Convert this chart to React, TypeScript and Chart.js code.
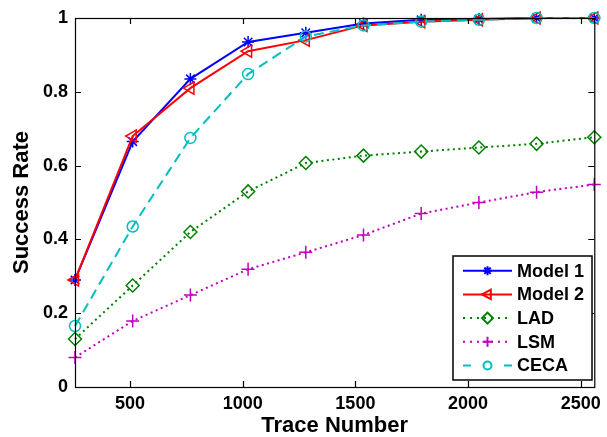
import React, { useEffect, useRef } from "react";
import { Chart, registerables } from "chart.js";

Chart.register(...registerables);

const traceNumbers = [256, 512, 768, 1024, 1280, 1536, 1792, 2048, 2304, 2560];
const model1 = [0.29, 0.665, 0.835, 0.935, 0.96, 0.985, 0.995, 0.997, 1.0, 1.0];
const model2 = [0.29, 0.68, 0.81, 0.91, 0.94, 0.98, 0.99, 0.995, 1.0, 1.0];
const lad = [0.13, 0.275, 0.42, 0.53, 0.607, 0.627, 0.638, 0.649, 0.659, 0.677];
const lsm = [0.08, 0.179, 0.249, 0.319, 0.365, 0.412, 0.47, 0.5, 0.528, 0.549];
const ceca = [0.165, 0.435, 0.675, 0.848, 0.95, 0.98, 0.99, 0.995, 1.0, 1.0];
const xTickValues = [500, 1000, 1500, 2000, 2500];
const yTickValues = [0, 0.2, 0.4, 0.6, 0.8, 1];
const seriesNames = ["Model 1", "Model 2", "LAD", "LSM", "CECA"];

const FONT = "'Liberation Sans', Arial, sans-serif";

function drawMarker(ctx: CanvasRenderingContext2D, style: string, x: number, y: number, r: number) {
  ctx.beginPath();
  if (style === "circle") {
    ctx.arc(x, y, r, 0, Math.PI * 2);
  } else if (style === "star") {
    for (let k = 0; k < 4; k++) {
      const ang = (k * Math.PI) / 4;
      ctx.moveTo(x - r * Math.cos(ang), y - r * Math.sin(ang));
      ctx.lineTo(x + r * Math.cos(ang), y + r * Math.sin(ang));
    }
  } else if (style === "cross") {
    ctx.moveTo(x - r, y);
    ctx.lineTo(x + r, y);
    ctx.moveTo(x, y - r);
    ctx.lineTo(x, y + r);
  } else if (style === "rectRot") {
    ctx.moveTo(x, y - r);
    ctx.lineTo(x + r, y);
    ctx.lineTo(x, y + r);
    ctx.lineTo(x - r, y);
    ctx.closePath();
  } else if (style === "triangle") {
    ctx.moveTo(x - r, y);
    ctx.lineTo(x + r * 0.6, y - r * 0.85);
    ctx.lineTo(x + r * 0.6, y + r * 0.85);
    ctx.closePath();
  }
  ctx.stroke();
}

const legendRadius: Record<string, number> = { star: 4.5, triangle: 5.5, rectRot: 5.5, cross: 5, circle: 4 };
const legendDash: Record<string, number[]> = {
  "Model 1": [],
  "Model 2": [],
  LAD: [2, 5],
  LSM: [2, 5],
  CECA: [8, 33],
};

const framePlugin = {
  id: "frameTicks",
  afterDatasetsDraw(chart: any) {
    const { ctx, chartArea: a, scales } = chart;
    const xs = scales.x;
    const ys = scales.y;
    ctx.save();
    ctx.strokeStyle = "#000";
    ctx.lineWidth = 1.2;
    ctx.strokeRect(a.left + 0.5, a.top + 0.5, a.right - a.left, a.bottom - a.top);
    const tl = 6;
    ctx.beginPath();
    for (const v of xTickValues) {
      const px = Math.round(xs.getPixelForValue(v)) + 0.5;
      ctx.moveTo(px, a.bottom);
      ctx.lineTo(px, a.bottom - tl);
      ctx.moveTo(px, a.top);
      ctx.lineTo(px, a.top + tl);
    }
    for (const v of yTickValues) {
      const py = Math.round(ys.getPixelForValue(v)) + 0.5;
      ctx.moveTo(a.left, py);
      ctx.lineTo(a.left + tl, py);
      ctx.moveTo(a.right, py);
      ctx.lineTo(a.right - tl, py);
    }
    ctx.stroke();
    ctx.restore();
  },
  afterDraw(chart: any) {
    const { ctx } = chart;
    const datasets = chart.data.datasets;
    const bx = 453;
    const by = 256;
    const bw = 139;
    const bh = 124;
    ctx.save();
    ctx.fillStyle = "#fff";
    ctx.fillRect(bx, by, bw, bh);
    ctx.strokeStyle = "#000";
    ctx.lineWidth = 1.5;
    ctx.strokeRect(bx, by, bw, bh);
    const rowH = 23.7;
    const y0 = 270.7;
    for (let i = 0; i < seriesNames.length; i++) {
      const ds = datasets.find((d: any) => d.label === seriesNames[i]);
      const y = y0 + i * rowH;
      ctx.strokeStyle = ds.borderColor;
      ctx.lineWidth = ds.borderWidth;
      ctx.setLineDash(legendDash[seriesNames[i]]);
      ctx.beginPath();
      ctx.moveTo(463, y);
      ctx.lineTo(512, y);
      ctx.stroke();
      ctx.setLineDash([]);
      ctx.lineWidth = 2;
      drawMarker(ctx, ds.pointStyle, 487.5, y, legendRadius[ds.pointStyle]);
      ctx.fillStyle = "#000";
      ctx.font = "bold 18px " + FONT;
      ctx.textBaseline = "middle";
      ctx.textAlign = "left";
      ctx.fillText(seriesNames[i], 517, y + 1);
    }
    ctx.restore();
  },
};

function mk(label: string, data: number[], color: string, style: string, extra: any) {
  return {
    label,
    data: traceNumbers.map((x, i) => ({ x, y: data[i] })),
    borderColor: color,
    backgroundColor: "transparent",
    pointBorderColor: color,
    pointBackgroundColor: "transparent",
    borderWidth: 2,
    pointBorderWidth: 1.5,
    pointRadius: 6,
    pointStyle: style,
    tension: 0,
    clip: false,
    ...extra,
  };
}

export default function App() {
  const ref = useRef<HTMLCanvasElement>(null);
  useEffect(() => {
    document.body.style.margin = "0";
    const chart = new Chart(ref.current!, {
      type: "line",
      data: {
        datasets: [
          mk("Model 1", model1, "#0000ff", "star", { order: 4, pointRadius: 6 }),
          mk("Model 2", model2, "#ff0000", "triangle", { order: 3, pointRotation: -90, pointRadius: 7 }),
          mk("LAD", lad, "#008000", "rectRot", { order: 2, borderDash: [2, 3.5], pointRadius: 6.5 }),
          mk("LSM", lsm, "#bf00bf", "cross", { order: 1, borderDash: [2, 3.5], pointRadius: 6.5 }),
          mk("CECA", ceca, "#00bfbf", "circle", { order: 0, borderDash: [10, 6], pointRadius: 5.5 }),
        ] as any,
      },
      options: {
        animation: false,
        responsive: false,
        maintainAspectRatio: false,
        layout: { padding: { top: 18, right: 6, left: 0, bottom: 0 } },
        plugins: { legend: { display: false }, tooltip: { enabled: false } },
        scales: {
          x: {
            type: "linear",
            min: 256,
            max: 2560,
            grid: { display: false, drawTicks: false, tickLength: 0 },
            border: { display: false },
            afterBuildTicks: (s: any) => {
              s.ticks = xTickValues.map((v) => ({ value: v }));
            },
            afterFit: (s: any) => {
              s.height = 50;
            },
            ticks: {
              color: "#000",
              padding: 6,
              maxRotation: 0,
              font: { family: FONT, size: 18, weight: "bold" },
              callback: (v: any) => String(v),
            },
            title: {
              display: true,
              text: "Trace Number",
              color: "#000",
              padding: { top: 0, bottom: 0 },
              font: { family: FONT, size: 22, weight: "bold", lineHeight: 1.0 },
            },
          },
          y: {
            type: "linear",
            min: 0,
            max: 1,
            grid: { display: false, drawTicks: false, tickLength: 0 },
            border: { display: false },
            afterBuildTicks: (s: any) => {
              s.ticks = yTickValues.map((v) => ({ value: v }));
            },
            afterFit: (s: any) => {
              s.width = 75;
            },
            ticks: {
              color: "#000",
              padding: 7,
              font: { family: FONT, size: 18, weight: "bold" },
              callback: (v: any) => String(Math.round(v * 10) / 10),
            },
            title: {
              display: true,
              text: "Success Rate",
              color: "#000",
              padding: { top: 9, bottom: 0 },
              font: { family: FONT, size: 22, weight: "bold" },
            },
          },
        },
      },
      plugins: [framePlugin],
    } as any);
    return () => chart.destroy();
  }, []);
  return (
    <div style={{ position: "absolute", left: 0, top: 0, width: 607, height: 437, background: "#fff" }}>
      <canvas ref={ref} width={607} height={437} style={{ display: "block" }} />
    </div>
  );
}
